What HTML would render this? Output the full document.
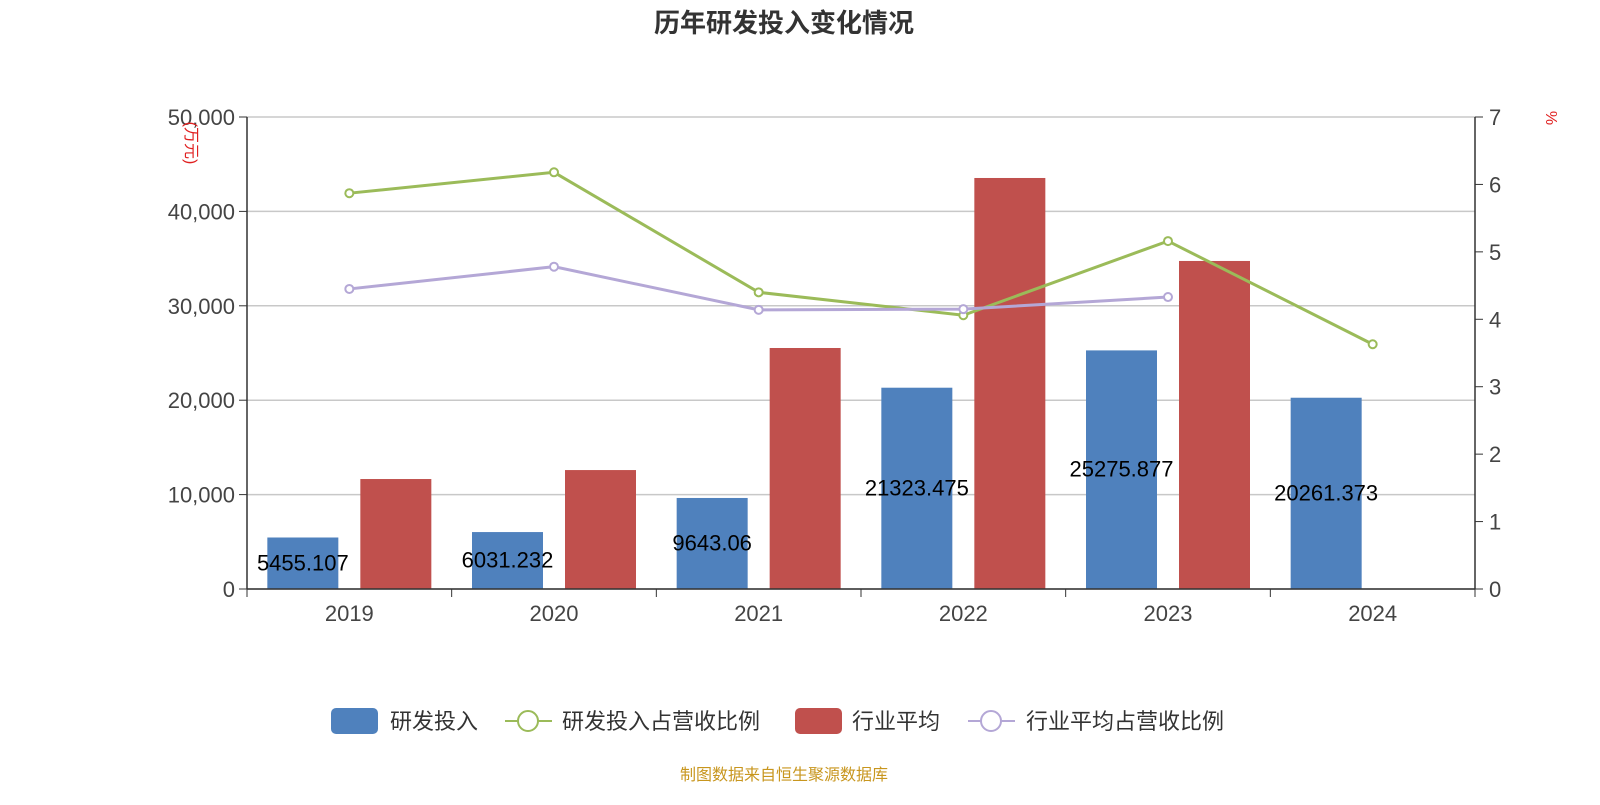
<!DOCTYPE html>
<html><head><meta charset="utf-8"><style>
body{margin:0;background:#fff;}
svg text{font-family:"Liberation Sans","Noto Sans CJK SC",sans-serif;}
</style></head><body>
<svg id="c" width="1600" height="800" xmlns="http://www.w3.org/2000/svg">
<text x="784" y="32" text-anchor="middle" font-size="26" font-weight="bold" fill="#333">历年研发投入变化情况</text>
<g id="grid"></g><g id="bars"></g><g id="lines"></g><g id="axes"></g>
<text transform="translate(186,143) rotate(90)" text-anchor="middle" font-size="16" fill="#e02020">(万元)</text>
<text transform="translate(1546,118) rotate(90)" text-anchor="middle" font-size="16" fill="#e02020">%</text>
<g>
<rect x="331" y="708" width="47" height="26" rx="5" fill="#4f81bd"/>
<text x="390" y="729" font-size="22" fill="#333">研发投入</text>
<line x1="505" y1="721" x2="552" y2="721" stroke="#9bbb59" stroke-width="2"/>
<circle cx="528" cy="721" r="10" fill="#fff" stroke="#9bbb59" stroke-width="2"/>
<text x="562" y="729" font-size="22" fill="#333">研发投入占营收比例</text>
<rect x="795" y="708" width="47" height="26" rx="5" fill="#c0504d"/>
<text x="852" y="729" font-size="22" fill="#333">行业平均</text>
<line x1="968" y1="721" x2="1015" y2="721" stroke="#b4a7d6" stroke-width="2"/>
<circle cx="991" cy="721" r="10" fill="#fff" stroke="#b4a7d6" stroke-width="2"/>
<text x="1026" y="729" font-size="22" fill="#333">行业平均占营收比例</text>
</g>
<text x="784" y="780" text-anchor="middle" font-size="16" fill="#c8961e">制图数据来自恒生聚源数据库</text>
</svg>
<script>
const categories=["2019","2020","2021","2022","2023","2024"];
const rdValues=[5455.107,6031.232,9643.06,21323.475,25275.877,20261.373];
const industryValues=[11650,12600,25530,43540,34750,null];
const rdRatio=[5.87,6.18,4.40,4.06,5.16,3.63];
const industryRatio=[4.45,4.78,4.14,4.15,4.33,null];
const leftTicks=[0,10000,20000,30000,40000,50000];
const rightTicks=[0,1,2,3,4,5,6,7];
const NS="http://www.w3.org/2000/svg";
const L=247,R=1475,T=117,B=589,bw=(R-L)/categories.length;
const yL=v=>B-(v/50000)*(B-T), yR=v=>B-(v/7)*(B-T), xC=i=>L+bw*(i+0.5);
function mk(p,tag,a){const e=document.createElementNS(NS,tag);for(const k in a)e.setAttribute(k,a[k]);document.getElementById(p).appendChild(e);return e;}
leftTicks.forEach(t=>{const y=yL(t);
 const g=mk('grid','line',{x1:L,x2:R,y1:y,y2:y,stroke:'#c8c8c8','stroke-width':1.5});
 
 
 mk('axes','line',{x1:L-8,x2:L,y1:y,y2:y,stroke:'#333'});
 const tx=mk('axes','text',{x:L-12,y:y+8,'text-anchor':'end','font-size':22,fill:'#444'});tx.textContent=t.toLocaleString('en-US');
 
 });
rightTicks.forEach(t=>{const y=yR(t);
 mk('axes','line',{x1:R,x2:R+8,y1:y,y2:y,stroke:'#333'});
 const tx=mk('axes','text',{x:R+14,y:y+8,'font-size':22,fill:'#444'});tx.textContent=t;
 
 });
mk('axes','line',{x1:L,x2:L,y1:T,y2:B,stroke:'#333','stroke-width':1.5});
mk('axes','line',{x1:R,x2:R,y1:T,y2:B,stroke:'#333','stroke-width':1.5});
mk('axes','line',{x1:L,x2:R,y1:B,y2:B,stroke:'#333','stroke-width':1.5});
for(let i=0;i<=categories.length;i++)mk('axes','line',{x1:L+bw*i,x2:L+bw*i,y1:B,y2:B+8,stroke:'#333'});
categories.forEach((c,i)=>{
 const tx=mk('axes','text',{x:xC(i),y:B+32,'text-anchor':'middle','font-size':22,fill:'#444'});tx.textContent=c;
 
 
 const bx=xC(i)-82;
 const b=mk('bars','rect',{x:bx,y:yL(rdValues[i]),width:71,height:B-yL(rdValues[i]),fill:'#4f81bd'});
 
 
 const lb=mk('bars','text',{x:bx+35.5,y:(yL(rdValues[i])+B)/2+7,'text-anchor':'middle','font-size':22,fill:'#000'});lb.textContent=rdValues[i];
 
 
 if(industryValues[i]!=null){
  const r=mk('bars','rect',{x:xC(i)+11,y:yL(industryValues[i]),width:71,height:B-yL(industryValues[i]),fill:'#c0504d'});
  
  }
});
function series(arr,color,name){
 const pts=[];arr.forEach((v,i)=>{if(v!=null)pts.push([xC(i),yR(v)]);});
 const pl=mk('lines','polyline',{points:pts.map(p=>p.join(',')).join(' '),fill:'none',stroke:color,'stroke-width':3});
 
 
 pts.forEach(p=>{const c=mk('lines','circle',{cx:p[0],cy:p[1],r:4,fill:'#fff',stroke:color,'stroke-width':2});
  
  });
}
series(rdRatio,'#9bbb59','rd-ratio');
series(industryRatio,'#b4a7d6','industry-ratio');
</script>
</body></html>
